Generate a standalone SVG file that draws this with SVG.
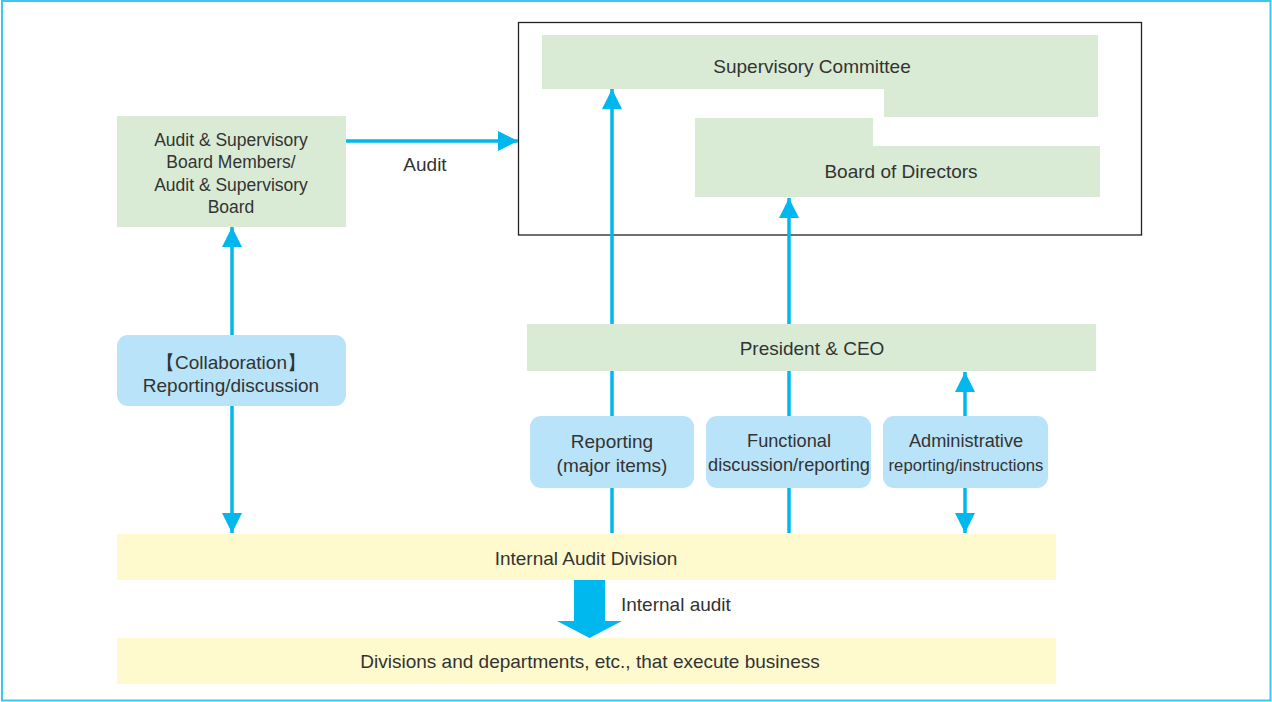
<svg xmlns="http://www.w3.org/2000/svg" width="1272" height="702" viewBox="0 0 1272 702">
  <style>
    .green { fill: #d9ebd5; }
    .pill { fill: #b8e3f8; }
    .yellow { fill: #fefacd; }
    .lbl { font-family: "Liberation Sans", Arial, sans-serif; font-size: 19px; fill: #333333; text-anchor: middle; }
    .lbl-m { font-family: "Liberation Sans", Arial, sans-serif; font-size: 18.2px; fill: #333333; text-anchor: middle; }
    .lbl-s { font-family: "Liberation Sans", Arial, sans-serif; font-size: 17.5px; fill: #333333; text-anchor: middle; }
    .lbl-xs { font-family: "Liberation Sans", Arial, sans-serif; font-size: 16.7px; fill: #333333; text-anchor: middle; }
    .line { stroke: #00b8ee; stroke-width: 3.5; fill: none; }
  </style>
  <defs>
    <marker id="head" markerUnits="userSpaceOnUse" markerWidth="20" markerHeight="20" viewBox="0 0 20 20" refX="20" refY="10" orient="auto-start-reverse">
      <path d="M0,0 L20,10 L0,20 Z" fill="#00b8ee"/>
    </marker>
  </defs>

  <!-- outer frame -->
  <rect x="2" y="1" width="1268.5" height="699.5" fill="#ffffff" stroke="#3cc6f0" stroke-width="2"/>

  <!-- board frame -->
  <rect x="518.5" y="22.5" width="623" height="212.5" fill="none" stroke="#222222" stroke-width="1.3"/>

  <!-- connectors (drawn beneath nodes) -->
  <g id="connectors">
    <line class="line" x1="232" y1="335" x2="232" y2="227" marker-end="url(#head)"/>
    <line class="line" x1="232" y1="406" x2="232" y2="533" marker-end="url(#head)"/>
    <line class="line" x1="346" y1="141" x2="518" y2="141" marker-end="url(#head)"/>
    <line class="line" x1="612" y1="533" x2="612" y2="89" marker-end="url(#head)"/>
    <line class="line" x1="789" y1="533" x2="789" y2="198" marker-end="url(#head)"/>
    <line class="line" x1="965" y1="416" x2="965" y2="372" marker-end="url(#head)"/>
    <line class="line" x1="965" y1="488" x2="965" y2="533" marker-end="url(#head)"/>
    <path d="M574,580 L605,580 L605,621 L622,621 L589.5,638 L557,621 L574,621 Z" fill="#00b8ee"/>
    <text class="lbl" x="425" y="171">Audit</text>
    <text class="lbl" x="621" y="611" style="text-anchor:start">Internal audit</text>
  </g>

  <g id="supervisory-committee">
    <path class="green" d="M542,35 L1098,35 L1098,117 L884,117 L884,89 L542,89 Z"/>
    <text class="lbl" x="812" y="73">Supervisory Committee</text>
  </g>

  <g id="board-of-directors">
    <path class="green" d="M695,118 L873,118 L873,146 L1100,146 L1100,197 L695,197 Z"/>
    <text class="lbl" x="901" y="178">Board of Directors</text>
  </g>

  <g id="audit-supervisory-board">
    <rect class="green" x="117" y="116" width="229" height="111"/>
    <text class="lbl-s" x="231" y="146">Audit &amp; Supervisory</text>
    <text class="lbl-s" x="231" y="168">Board Members/</text>
    <text class="lbl-s" x="231" y="191">Audit &amp; Supervisory</text>
    <text class="lbl-s" x="231" y="213">Board</text>
  </g>

  <g id="collaboration">
    <rect class="pill" x="117" y="335" width="229" height="71" rx="11"/>
    <text class="lbl" x="231" y="369">【Collaboration】</text>
    <text class="lbl" x="231" y="392">Reporting/discussion</text>
  </g>

  <g id="president-ceo">
    <rect class="green" x="527" y="324" width="569" height="47"/>
    <text class="lbl" x="812" y="355">President &amp; CEO</text>
  </g>

  <g id="reporting-major">
    <rect class="pill" x="530" y="416" width="164" height="72" rx="11"/>
    <text class="lbl" x="612" y="448">Reporting</text>
    <text class="lbl" x="612" y="472">(major items)</text>
  </g>

  <g id="functional">
    <rect class="pill" x="706" y="416" width="165" height="72" rx="11"/>
    <text class="lbl-m" x="789" y="447">Functional</text>
    <text class="lbl-m" x="789" y="471">discussion/reporting</text>
  </g>

  <g id="administrative">
    <rect class="pill" x="883" y="416" width="165" height="72" rx="11"/>
    <text class="lbl-m" x="966" y="447">Administrative</text>
    <text class="lbl-xs" x="966" y="471">reporting/instructions</text>
  </g>

  <g id="internal-audit-division">
    <rect class="yellow" x="117" y="534" width="939" height="46"/>
    <text class="lbl" x="586" y="565">Internal Audit Division</text>
  </g>

  <g id="business-divisions">
    <rect class="yellow" x="117" y="638" width="939" height="46"/>
    <text class="lbl" x="590" y="668">Divisions and departments, etc., that execute business</text>
  </g>
</svg>
